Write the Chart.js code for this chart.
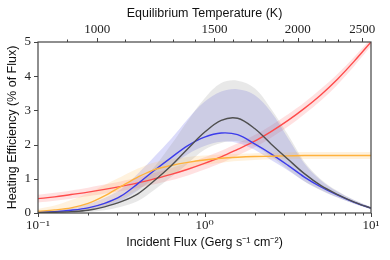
<!DOCTYPE html>
<html>
<head>
<meta charset="utf-8">
<script src="https://cdn.jsdelivr.net/npm/chart.js@4"></script>
<style>
  html, body { margin: 0; padding: 0; background: #fff; }
  #wrap { width: 390px; height: 260px; }
</style>
</head>
<body>
<div id="wrap"><canvas id="myChart"></canvas></div>
<script>
// Incident flux samples (Gerg s^-1 cm^-2), 0.1 dex apart
const flux = [0.1, 0.126, 0.158, 0.2, 0.251, 0.316, 0.398, 0.501, 0.631, 0.794, 1,
              1.26, 1.58, 2, 2.51, 3.16, 3.98, 5.01, 6.31, 7.94, 10];

// heating efficiency (% of flux), median line + band edges for each model
const redMid = [0.42, 0.47, 0.54, 0.61, 0.69, 0.78, 0.88, 1.00, 1.13, 1.28, 1.45, 1.64, 1.86, 2.10, 2.38, 2.70, 3.06, 3.46, 3.92, 4.44, 5.00];
const redHi  = [0.53, 0.59, 0.66, 0.74, 0.83, 0.93, 1.04, 1.17, 1.31, 1.46, 1.63, 1.82, 2.04, 2.28, 2.56, 2.88, 3.23, 3.63, 4.07, 4.57, 5.10];
const redLo  = [0.31, 0.36, 0.42, 0.49, 0.56, 0.64, 0.73, 0.84, 0.96, 1.10, 1.27, 1.46, 1.68, 1.92, 2.20, 2.52, 2.89, 3.29, 3.76, 4.30, 4.88];

const orangeMid = [0.05, 0.09, 0.15, 0.28, 0.50, 0.78, 1.05, 1.27, 1.39, 1.48, 1.55, 1.60, 1.63, 1.65, 1.66, 1.67, 1.68, 1.68, 1.68, 1.68, 1.68];
const orangeHi  = [0.12, 0.22, 0.38, 0.58, 0.82, 1.06, 1.30, 1.48, 1.58, 1.64, 1.68, 1.71, 1.73, 1.75, 1.76, 1.77, 1.78, 1.78, 1.78, 1.78, 1.78];
const orangeLo  = [0.00, 0.02, 0.05, 0.10, 0.22, 0.42, 0.68, 0.95, 1.15, 1.30, 1.40, 1.47, 1.52, 1.55, 1.57, 1.58, 1.58, 1.58, 1.58, 1.58, 1.58];

const blueMid = [0.02, 0.04, 0.08, 0.15, 0.28, 0.50, 0.86, 1.25, 1.62, 1.97, 2.22, 2.34, 2.29, 2.02, 1.73, 1.40, 1.05, 0.76, 0.52, 0.31, 0.14];
const blueHi  = [0.04, 0.08, 0.14, 0.26, 0.44, 0.70, 1.15, 1.65, 2.17, 2.75, 3.25, 3.55, 3.62, 3.45, 2.95, 2.20, 1.45, 0.95, 0.62, 0.37, 0.17];
const blueLo  = [0.00, 0.02, 0.04, 0.09, 0.18, 0.36, 0.66, 1.02, 1.38, 1.72, 1.96, 2.08, 2.05, 1.85, 1.55, 1.25, 0.93, 0.67, 0.45, 0.27, 0.11];

const grayMid = [0.01, 0.02, 0.04, 0.08, 0.18, 0.33, 0.56, 0.95, 1.38, 1.88, 2.36, 2.71, 2.77, 2.47, 2.02, 1.58, 1.15, 0.80, 0.54, 0.32, 0.14];
const grayHi  = [0.03, 0.05, 0.09, 0.16, 0.30, 0.50, 0.85, 1.35, 2.00, 2.70, 3.35, 3.80, 3.87, 3.65, 3.05, 2.30, 1.50, 0.98, 0.64, 0.38, 0.18];
const grayLo  = [0.00, 0.00, 0.01, 0.03, 0.08, 0.18, 0.35, 0.68, 1.05, 1.45, 1.85, 2.05, 2.10, 1.95, 1.65, 1.28, 0.92, 0.66, 0.45, 0.27, 0.11];

// tick marks
const fluxMajor = [0.1, 1, 10];
const fluxLabels = ['10\u207B\u00B9', '10\u2070', '10\u00B9'];
const fluxMinor = [0.2, 0.3, 0.4, 0.5, 0.6, 0.7, 0.8, 0.9, 2, 3, 4, 5, 6, 7, 8, 9];
const tempMajor = [1000, 1500, 2000, 2500];
const tempMinor = [900, 1100, 1200, 1300, 1400, 1600, 1700, 1800, 1900, 2100, 2200, 2300, 2400];
const yTicks = [0, 1, 2, 3, 4, 5];

// F = 4 sigma T^4 (cgs), converted to Gerg
const SIGMA = 5.6704e-5;
const tempToFlux = t => 4 * SIGMA * Math.pow(t, 4) / 1e9;
const fluxToTemp = f => Math.pow(f * 1e9 / (4 * SIGMA), 0.25);

const SERIF = '"Liberation Serif", "DejaVu Serif", serif';
const SANS = '"Liberation Sans", Arial, sans-serif';

const pts = ys => flux.map((x, i) => ({ x: x, y: ys[i] }));

const datasets = [];
function addSeries(mid, lo, hi, lineColor, bandColor) {
    const loIdx = datasets.length;
    datasets.push({ data: pts(lo), borderColor: 'transparent', borderWidth: 0, pointRadius: 0,
        fill: false, order: 2, tension: 0.35 });
    datasets.push({ data: pts(hi), borderColor: 'transparent', borderWidth: 0, pointRadius: 0,
        fill: loIdx, backgroundColor: bandColor, order: 2, tension: 0.35 });
    datasets.push({ data: pts(mid), borderColor: lineColor, borderWidth: 1.4, pointRadius: 0,
        fill: false, order: 1, tension: 0.35 });
}
addSeries(grayMid, grayLo, grayHi, 'rgb(80,80,80)', 'rgba(150,150,150,0.22)');
addSeries(orangeMid, orangeLo, orangeHi, 'rgb(255,178,60)', 'rgba(255,190,90,0.2)');
addSeries(blueMid, blueLo, blueHi, 'rgb(60,60,235)', 'rgba(90,90,230,0.22)');
addSeries(redMid, redLo, redHi, 'rgb(255,75,75)', 'rgba(255,90,90,0.18)');

// outward ticks and the box around the plot
const frameTicks = {
    id: 'frameTicks',
    afterDraw(chart) {
        const { ctx, chartArea: a, scales } = chart;
        ctx.save();
        ctx.strokeStyle = '#444';
        ctx.lineWidth = 1;
        ctx.beginPath();
        const xTick = (scale, v, len, y, dir) => {
            const px = Math.round(scale.getPixelForValue(v)) + 0.5;
            ctx.moveTo(px, y); ctx.lineTo(px, y + dir * len);
        };
        fluxMajor.forEach(v => xTick(scales.x, v, 4, a.bottom, 1));
        fluxMinor.forEach(v => xTick(scales.x, v, 2.5, a.bottom, 1));
        tempMajor.forEach(t => xTick(scales.x2, tempToFlux(t), 4, a.top, -1));
        tempMinor.forEach(t => xTick(scales.x2, tempToFlux(t), 2.5, a.top, -1));
        yTicks.forEach(v => {
            const py = Math.round(scales.y.getPixelForValue(v)) + 0.5;
            ctx.moveTo(a.left, py); ctx.lineTo(a.left - 4, py);
        });
        ctx.stroke();
        ctx.lineWidth = 1.2;
        ctx.strokeRect(a.left, a.top, a.right - a.left, a.bottom - a.top);
        ctx.restore();
    }
};

const ctx = document.getElementById('myChart');
new Chart(ctx, {
    type: 'line',
    data: { datasets: datasets },
    plugins: [frameTicks],
    options: {
        responsive: true,
        maintainAspectRatio: false,
        animation: false,
        layout: { padding: { left: 0, right: 19, top: 0, bottom: 0 } },
        plugins: { legend: { display: false }, tooltip: { enabled: false } },
        scales: {
            x: {
                type: 'logarithmic', position: 'bottom', min: 0.1, max: 10,
                afterBuildTicks: s => { s.ticks = fluxMajor.concat(fluxMinor).sort((p, q) => p - q).map(v => ({ value: v })); },
                afterFit: s => { s.height = 47; },
                ticks: {
                    autoSkip: false, maxRotation: 0, padding: 1, color: '#222',
                    font: { family: SERIF, size: 13 },
                    callback: v => {
                        const i = fluxMajor.findIndex(m => Math.abs(Math.log10(m) - Math.log10(v)) < 1e-6);
                        return i >= 0 ? fluxLabels[i] : '';
                    }
                },
                grid: { drawOnChartArea: false, tickLength: 4, tickColor: 'rgba(0,0,0,0)' },
                border: { display: false },
                title: { display: true, text: 'Incident Flux (Gerg s\u207B\u00B9 cm\u207B\u00B2)', color: '#111',
                    font: { family: SANS, size: 12.5 }, padding: { top: 0, bottom: 10 } }
            },
            x2: {
                type: 'logarithmic', position: 'top', min: 0.1, max: 10,
                afterBuildTicks: s => { s.ticks = tempMinor.concat(tempMajor).sort((p, q) => p - q).map(t => ({ value: tempToFlux(t) })); },
                afterFit: s => { s.height = 42; },
                ticks: {
                    autoSkip: false, maxRotation: 0, padding: 1, color: '#222',
                    font: { family: SERIF, size: 13 },
                    callback: v => {
                        const t = Math.round(fluxToTemp(v));
                        return tempMajor.includes(t) ? String(t) : '';
                    }
                },
                grid: { drawOnChartArea: false, tickLength: 4, tickColor: 'rgba(0,0,0,0)' },
                border: { display: false },
                title: { display: true, text: 'Equilibrium Temperature (K)', color: '#111',
                    font: { family: SANS, size: 12.5 }, padding: { top: 6, bottom: 0 } }
            },
            y: {
                min: 0, max: 5,
                afterBuildTicks: s => { s.ticks = yTicks.map(v => ({ value: v })); },
                afterFit: s => { s.width = 38; },
                ticks: { padding: 3, color: '#222', font: { family: SERIF, size: 13 } },
                grid: { drawOnChartArea: false, tickLength: 4, tickColor: 'rgba(0,0,0,0)' },
                border: { display: false },
                title: { display: true, text: 'Heating Efficiency (% of Flux)', color: '#111',
                    font: { family: SANS, size: 12.5 }, padding: { top: 5, bottom: 0 } }
            }
        }
    }
});
</script>
</body>
</html>
